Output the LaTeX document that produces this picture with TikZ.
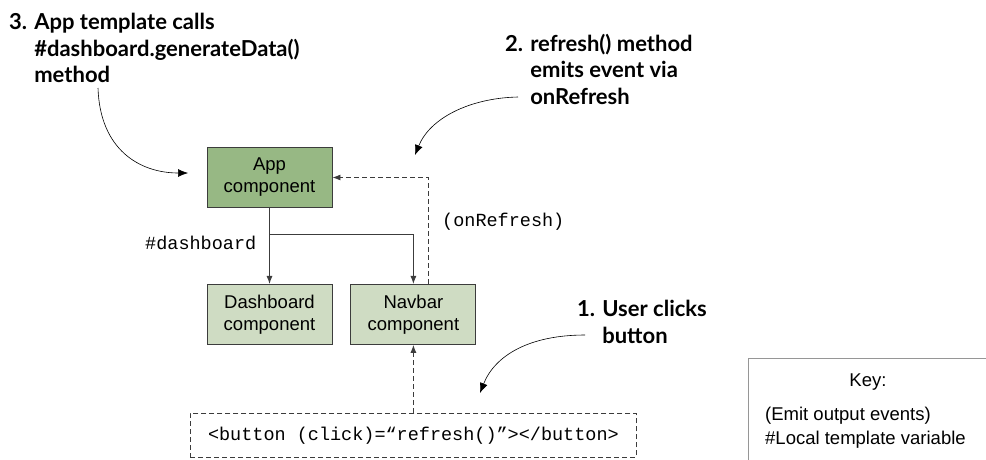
\documentclass[tikz,border=0pt]{standalone}
\usepackage{fontspec}
\setmainfont{Liberation Sans}
\setmonofont{Liberation Mono}
\newfontfamily\notefont{Lato}
\usetikzlibrary{arrows.meta, positioning}

\definecolor{appgreen}{RGB}{151,184,132}
\definecolor{compgreen}{RGB}{207,220,195}
\definecolor{boxline}{RGB}{60,60,60}
\definecolor{keygray}{RGB}{150,150,150}

\begin{document}
\begin{tikzpicture}[x=1pt, y=-1pt,
  node distance=18pt and 18pt,
  box/.style={draw=boxline, line width=0.9pt, minimum width=125pt, minimum height=60pt, align=center, font=\fontsize{18.5}{22}\selectfont, inner sep=2pt},
  appbox/.style={box, fill=appgreen},
  compbox/.style={box, fill=compgreen},
  code/.style={font=\ttfamily\fontsize{18.5}{22}\selectfont, inner sep=0pt},
  keytext/.style={font=\fontsize{18.5}{22}\selectfont, inner sep=0pt},
  note/.style={font=\notefont\bfseries\fontsize{22}{26.5}\selectfont, align=left, inner sep=0pt, anchor=north west},
  arr/.style={-{Latex[length=8pt, width=6pt]}, line width=0.9pt, draw=boxline},
  darr/.style={arr, dash pattern=on 5pt off 3pt},
  callout/.style={-{Latex[length=10pt, width=8pt]}, line width=0.6pt}]
\useasboundingbox (0,0) rectangle (986,459);

% components
\node[appbox] (app) at (269.5,177.5) {App\\component};
\node[compbox, below=76pt of app] (dash) {Dashboard\\component};
\node[compbox, right=of dash] (nav) {Navbar\\component};
\node[draw=boxline, line width=0.9pt, dash pattern=on 5pt off 3pt, minimum width=446pt, minimum height=44pt, code, below=68pt of nav] (btn) {<button (click)=“refresh()”></button>};

\coordinate (split) at (269.5,234);
\draw[arr] (app.south) -- (dash.north);
\draw[arr] (split) -| (nav.north);
\draw[darr] ([xshift=15pt]nav.north) |- (app.east);
\draw[darr] (btn.north) -- (nav.south);

\node[code, anchor=west] (refreshlbl) at (442,222) {(onRefresh)};
\node[code, anchor=west] (dashlbl) at (145,243) {\#dashboard};

% notes
\node[note] (note3) at (9,13) {3. App template calls\\\phantom{3. }\#dashboard.generateData()\\\phantom{3. }method};
\node[note] (note2) at (505,34) {2. refresh() method\\\phantom{2. }emits event via\\\phantom{2. }onRefresh};
\node[note] (note1) at (577,300) {1. User clicks\\\phantom{1. }button};

\coordinate (from3) at (98,88);
\coordinate (tip3) at (188,173);
\coordinate (from2) at (518,97);
\coordinate (tip2) at (415,155);
\coordinate (from1) at (585,335);
\coordinate (tip1) at (480,393);
\draw[callout] (from3) .. controls (100,150) and (140,173) .. (tip3);
\draw[callout] (from2) .. controls (470,98) and (430,118) .. (tip2);
\draw[callout] (from1) .. controls (530,335) and (495,355) .. (tip1);

% key
\node[draw=keygray, line width=0.9pt, minimum width=240pt, minimum height=110pt] (key) at (868,413) {};
\node[keytext] (keytitle) at (868,382) {Key:};
\node[keytext, anchor=west] (emit) at (765,416) {(Emit output events)};
\node[keytext, anchor=west] (local) at (765,440) {\#Local template variable};
\end{tikzpicture}
\end{document}
